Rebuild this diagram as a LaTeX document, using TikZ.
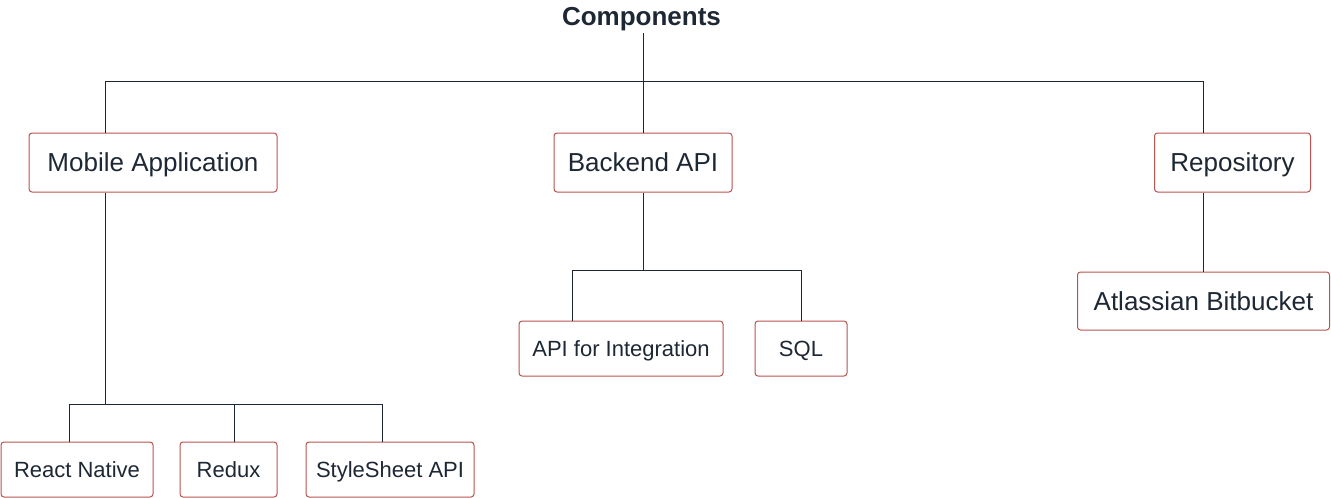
\documentclass[tikz,border=0pt]{standalone}
\usepackage{fontspec}
\setmainfont{Liberation Sans}
\definecolor{ink}{RGB}{30,40,52}
\definecolor{edge}{RGB}{184,84,80}
\begin{document}
\begin{tikzpicture}[x=1pt,y=-1pt,
  box/.style={draw=edge,line width=1pt,rounded corners=3pt,fill=white,text=ink,inner sep=0pt,text depth=0pt},
  big/.style={box,minimum height=59pt,text height=18.6pt,font=\fontsize{26}{31}\selectfont},
  small/.style={box,minimum height=55pt,text height=15.75pt,font=\fontsize{22}{27}\selectfont},
  wire/.style={draw=ink,line width=1pt}]
\useasboundingbox (0,0) rectangle (1331,498);
\node[text=ink,inner sep=0pt,text height=18.6pt,text depth=0pt,font=\bfseries\fontsize{26}{31}\selectfont] (title) at (641.5,16.5) {Components};
\node[big,minimum width=248pt] (mob) at (153,162.5) {Mobile Application};
\node[big,minimum width=178pt] (back) at (643,162.5) {Backend API};
\node[big,minimum width=156pt] (repo) at (1232.5,162.5) {Repository};
\node[big,minimum width=252pt,minimum height=58pt] (bit) at (1203.5,301) {Atlassian Bitbucket};
\node[small,minimum width=204pt] (api) at (621,348.5) {API for Integration};
\node[small,minimum width=92pt] (sql) at (801,348.5) {SQL};
\node[small,minimum width=152pt] (rn) at (77,469.5) {React Native};
\node[small,minimum width=97pt] (redux) at (228.5,469.5) {Redux};
\node[small,minimum width=168pt] (ss) at (390,469.5) {StyleSheet API};
\coordinate (h1L) at (105,81);
\coordinate (h1M) at (643,81);
\coordinate (h1R) at (1203,81);
\coordinate (h2M) at (105,404);
\coordinate (h2L) at (69,404);
\coordinate (h2C) at (234,404);
\coordinate (h2R) at (382,404);
\coordinate (h3M) at (643,270);
\coordinate (h3L) at (572,270);
\coordinate (h3R) at (801,270);
\draw[wire] (h1M |- 0,33) -- (h1M);
\draw[wire] (h1L) -- (h1R);
\draw[wire] (h1L) -- (h1L |- mob.north);
\draw[wire] (h1M) -- (h1M |- back.north);
\draw[wire] (h1R) -- (h1R |- repo.north);
\draw[wire] (h2M |- mob.south) -- (h2M);
\draw[wire] (h2L) -- (h2R);
\draw[wire] (h2L) -- (h2L |- rn.north);
\draw[wire] (h2C) -- (h2C |- redux.north);
\draw[wire] (h2R) -- (h2R |- ss.north);
\draw[wire] (h3M |- back.south) -- (h3M);
\draw[wire] (h3L) -- (h3R);
\draw[wire] (h3L) -- (h3L |- api.north);
\draw[wire] (h3R) -- (h3R |- sql.north);
\draw[wire] (h1R |- repo.south) -- (h1R |- bit.north);
\end{tikzpicture}
\end{document}
